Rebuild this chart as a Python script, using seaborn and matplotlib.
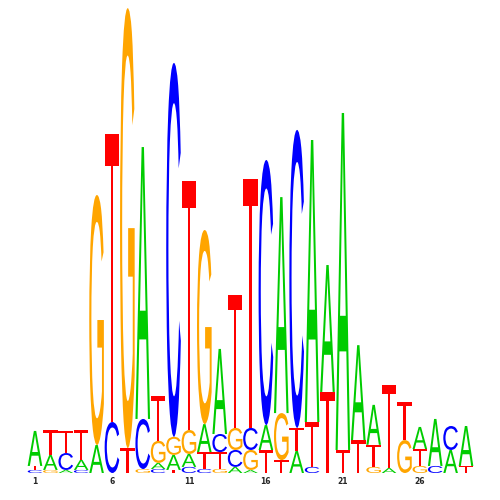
import numpy as np
import matplotlib
matplotlib.use("Agg")
import matplotlib.pyplot as plt
import seaborn as sns
from matplotlib.textpath import TextPath
from matplotlib.patches import PathPatch
from matplotlib.font_manager import FontProperties
from matplotlib.transforms import Affine2D

sns.set_theme(style="white")

positions = list(range(1, 30))
A_bits = [0.149, 0.064, 0.013, 0.043, 0.119, 0, 0, 1.157, 0.026, 0.064, 0.055, 0.119, 0.362, 0.026, 0.013,
          0.106, 0.919, 0.094, 1.200, 0.540, 1.434, 0.404, 0.170, 0.021, 0, 0.094, 0.200, 0.098, 0.170]
C_bits = [0.013, 0, 0.072, 0.013, 0, 0.217, 0, 0.213, 0.017, 1.591, 0.026, 0.017, 0.077, 0.072, 0.094,
          1.128, 0, 1.268, 0.026, 0, 0, 0, 0, 0, 0, 0, 0.030, 0.102, 0]
G_bits = [0, 0.013, 0, 0, 1.064, 0, 1.872, 0.017, 0.094, 0.077, 0.102, 0.826, 0.017, 0.094, 0.085,
          0, 0.200, 0, 0, 0, 0, 0, 0.026, 0, 0.140, 0.030, 0, 0, 0]
T_bits = [0.017, 0.106, 0.094, 0.128, 0, 1.226, 0.106, 0, 0.191, 0.013, 1.060, 0.072, 0.072, 0.566, 1.060,
          0.098, 0.055, 0.098, 0.191, 0.345, 0.098, 0.140, 0.094, 0.353, 0.162, 0.072, 0, 0, 0.030]
tick_pos = [1, 6, 11, 16, 21, 26]

bases = {"A": A_bits, "C": C_bits, "G": G_bits, "T": T_bits}
colors = {"A": "#00CC00", "C": "#0000FF", "G": "#FFA500", "T": "#FF0000"}

fp = FontProperties(family="Liberation Sans", weight="normal")
glyphs = {}
for b in bases:
    tp = TextPath((0, 0), b, size=1, prop=fp)
    glyphs[b] = (tp, tp.get_extents())

fig = plt.figure(figsize=(5, 5), dpi=100)
ax = fig.add_axes([0.0546, 0.054, 0.8928, 0.94])

width = 0.95
for i, p in enumerate(positions):
    col = sorted([(bases[b][i], b) for b in "ACGT"], key=lambda t: t[0])
    y0 = 0.0
    for h, b in col:
        if h <= 0:
            continue
        tp, ext = glyphs[b]
        tr = (Affine2D().translate(-ext.x0, -ext.y0)
              .scale(width / ext.width, h / ext.height)
              .translate(p - width / 2, y0))
        ax.add_patch(PathPatch(tr.transform_path(tp), facecolor=colors[b],
                               edgecolor="none", transform=ax.transData))
        y0 += h

ax.set_xlim(0.5, 29.5)
ax.set_ylim(0, 2)
ax.set_xticks(tick_pos)
ax.set_xticklabels([str(t) for t in tick_pos], fontsize=5.5, fontweight="bold",
                   family="DejaVu Sans")
ax.tick_params(axis="x", length=0, pad=3)
ax.set_yticks([])
for s in ax.spines.values():
    s.set_visible(False)

fig.savefig("out.png", dpi=100)
